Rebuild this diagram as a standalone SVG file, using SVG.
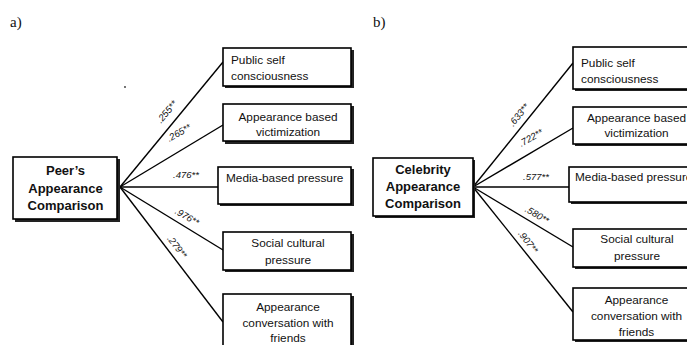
<svg xmlns="http://www.w3.org/2000/svg" width="687" height="345" viewBox="0 0 687 345">
<style>
.sh{fill:#222;}
.bx{fill:#fff;stroke:#000;stroke-width:1.6;}
.t{font-family:"Liberation Sans",Arial,sans-serif;font-size:11.8px;fill:#111;}
.c{text-anchor:middle;}
.b{font-family:"Liberation Sans",Arial,sans-serif;font-size:13px;font-weight:bold;fill:#111;text-anchor:middle;}
.lb{font-family:"Liberation Sans",Arial,sans-serif;font-size:9.5px;font-style:italic;fill:#111;text-anchor:middle;}
.pl{font-family:"Liberation Serif","Times New Roman",serif;font-size:15px;fill:#111;}
.cn line{stroke:#000;stroke-width:1.4;}
</style>
<rect width="687" height="345" fill="#fff"/>
<text class="pl" x="10" y="27">a)</text>
<text class="pl" x="373" y="27">b)</text>
<circle cx="125" cy="87" r="0.9" fill="#333"/>

<g id="connectors-a" class="cn">
<line x1="120" y1="187" x2="223" y2="62"/>
<line x1="120" y1="187" x2="223" y2="125"/>
<line x1="120" y1="187" x2="218" y2="187"/>
<line x1="120" y1="187" x2="223" y2="250"/>
<line x1="120" y1="187" x2="223" y2="322"/>
</g>
<g id="labels-a">
<text class="lb" x="167" y="115" transform="rotate(-50 167 112)">.255**</text>
<text class="lb" x="179" y="136" transform="rotate(-30 179 133)">.265**</text>
<text class="lb" x="186" y="178">.476**</text>
<text class="lb" x="187" y="220" transform="rotate(30 187 217)">.976**</text>
<text class="lb" x="177" y="250" transform="rotate(52 177 247)">.279**</text>
</g>

<g id="peer">
<rect class="sh" x="15" y="159" width="105" height="63"/>
<rect class="bx" x="13" y="157" width="104" height="62"/>
<text class="b" x="65.5" y="174.5">Peer’s</text>
<text class="b" x="65.5" y="192.5">Appearance</text>
<text class="b" x="65.5" y="209.5">Comparison</text>
</g>
<g id="a-public">
<rect class="sh" x="225" y="50" width="129" height="38"/>
<rect class="bx" x="223" y="48" width="128" height="38"/>
<text class="t" x="231" y="64">Public self</text>
<text class="t" x="231" y="80">consciousness</text>
</g>
<g id="a-victim">
<rect class="sh" x="225" y="106" width="129" height="38"/>
<rect class="bx" x="223" y="104" width="128" height="37"/>
<text class="t c" x="288" y="121">Appearance based</text>
<text class="t c" x="288" y="136">victimization</text>
</g>
<g id="a-media">
<rect class="sh" x="220" y="169" width="134" height="37"/>
<rect class="bx" x="218" y="167" width="133" height="37"/>
<text class="t" x="226" y="182">Media-based pressure</text>
</g>
<g id="a-social">
<rect class="sh" x="225" y="234" width="129" height="38"/>
<rect class="bx" x="223" y="232" width="128" height="38"/>
<text class="t c" x="288" y="247">Social cultural</text>
<text class="t c" x="288" y="264">pressure</text>
</g>
<g id="a-conv">
<rect class="sh" x="225" y="296" width="129" height="60"/>
<rect class="bx" x="223" y="294" width="128" height="60"/>
<text class="t c" x="288" y="311">Appearance</text>
<text class="t c" x="288" y="327">conversation with</text>
<text class="t c" x="288" y="342">friends</text>
</g>

<g id="connectors-b" class="cn">
<line x1="473" y1="187" x2="573" y2="63"/>
<line x1="473" y1="187" x2="573" y2="128"/>
<line x1="473" y1="187" x2="569" y2="187"/>
<line x1="473" y1="187" x2="573" y2="247"/>
<line x1="473" y1="187" x2="573" y2="312"/>
</g>
<g id="labels-b">
<text class="lb" x="519" y="118" transform="rotate(-51 519 115)">.633**</text>
<text class="lb" x="531" y="141" transform="rotate(-30 531 138)">.722**</text>
<text class="lb" x="536" y="180">.577**</text>
<text class="lb" x="537" y="218" transform="rotate(31 537 215)">.580**</text>
<text class="lb" x="528" y="245" transform="rotate(52 528 242)">.907**</text>
</g>

<g id="celebrity">
<rect class="sh" x="375" y="160" width="100" height="58"/>
<rect class="bx" x="373" y="158" width="100" height="58"/>
<text class="b" x="423" y="174">Celebrity</text>
<text class="b" x="423" y="191">Appearance</text>
<text class="b" x="423" y="208">Comparison</text>
</g>
<g id="b-public">
<rect class="sh" x="575" y="49" width="130" height="42"/>
<rect class="bx" x="573" y="47" width="130" height="42"/>
<text class="t" x="581" y="67">Public self</text>
<text class="t" x="581" y="83">consciousness</text>
</g>
<g id="b-victim">
<rect class="sh" x="575" y="109" width="130" height="37"/>
<rect class="bx" x="573" y="107" width="130" height="37"/>
<text class="t c" x="636.5" y="122">Appearance based</text>
<text class="t c" x="636.5" y="137">victimization</text>
</g>
<g id="b-media">
<rect class="sh" x="571" y="169" width="134" height="35"/>
<rect class="bx" x="569" y="167" width="134" height="35"/>
<text class="t" x="575" y="181">Media-based pressure</text>
</g>
<g id="b-social">
<rect class="sh" x="575" y="231" width="130" height="38"/>
<rect class="bx" x="573" y="229" width="130" height="38"/>
<text class="t c" x="637" y="243">Social cultural</text>
<text class="t c" x="637" y="260">pressure</text>
</g>
<g id="b-conv">
<rect class="sh" x="575" y="290" width="130" height="52"/>
<rect class="bx" x="573" y="288" width="130" height="52"/>
<text class="t c" x="636.5" y="304">Appearance</text>
<text class="t c" x="636.5" y="320">conversation with</text>
<text class="t c" x="636.5" y="336">friends</text>
</g>
</svg>
